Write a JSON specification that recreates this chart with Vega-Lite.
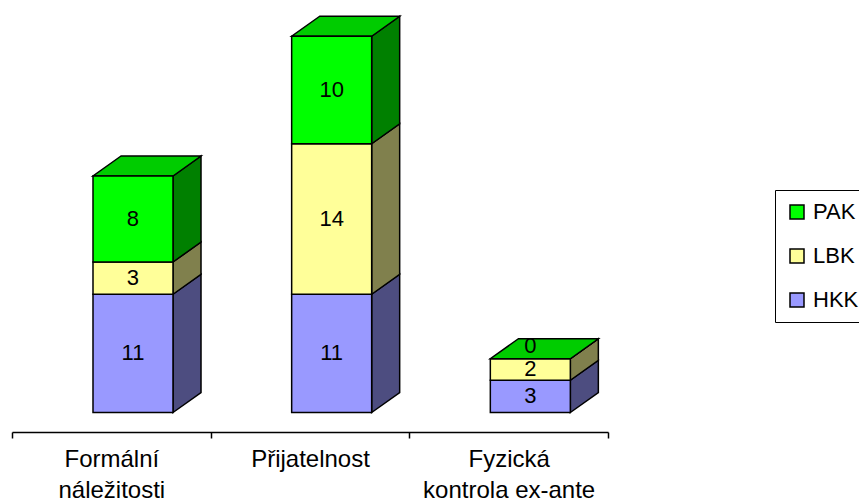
{
  "$schema": "https://vega.github.io/schema/vega-lite/v6.json",
  "width": 596,
  "height": 432,
  "autosize": {"type": "none"},
  "padding": {"left": 12, "top": 0, "right": 251, "bottom": 70},
  "background": "white",
  "config": {
    "view": {"stroke": null},
    "font": "Liberation Sans",
    "text": {"font": "Liberation Sans"},
    "axisX": {
      "grid": false,
      "domainColor": "black",
      "domainWidth": 1.5,
      "tickColor": "black",
      "tickWidth": 1.5,
      "tickSize": 6,
      "labelFont": "Liberation Sans",
      "labelFontSize": 24,
      "labelColor": "black",
      "labelLineHeight": 31,
      "labelPadding": 9,
      "labelOverlap": false,
      "labelBound": false,
      "labelFlush": false
    }
  },
  "data": {
    "values": [
      {"cat": "Formální náležitosti", "series": "HKK", "value": 11},
      {"cat": "Formální náležitosti", "series": "LBK", "value": 3},
      {"cat": "Formální náležitosti", "series": "PAK", "value": 8},
      {"cat": "Přijatelnost", "series": "HKK", "value": 11},
      {"cat": "Přijatelnost", "series": "LBK", "value": 14},
      {"cat": "Přijatelnost", "series": "PAK", "value": 10},
      {"cat": "Fyzická kontrola ex-ante", "series": "HKK", "value": 3},
      {"cat": "Fyzická kontrola ex-ante", "series": "LBK", "value": 2},
      {"cat": "Fyzická kontrola ex-ante", "series": "PAK", "value": 0}
    ]
  },
  "transform": [
    {"calculate": "indexof(['Formální náležitosti','Přijatelnost','Fyzická kontrola ex-ante'], datum.cat)", "as": "idx"},
    {"calculate": "indexof(['HKK','LBK','PAK'], datum.series)", "as": "ord"},
    {"stack": "value", "groupby": ["cat"], "sort": [{"field": "ord", "order": "ascending"}], "as": ["y0", "y1"]},
    {"calculate": "datum.idx - 0.0923", "as": "xl"},
    {"calculate": "datum.idx + 0.3104", "as": "xr"},
    {"calculate": "datum.cat + '|' + datum.series", "as": "seg"}
  ],
  "resolve": {"scale": {"fill": "independent"}, "legend": {"fill": "independent"}},
  "layer": [
    {
      "transform": [
        {"calculate": "0", "as": "k0"},
        {"calculate": "1", "as": "k1"},
        {"fold": ["k0", "k1"], "as": ["corner", "k"]},
        {"calculate": "datum.xr + datum.k * 0.141", "as": "vx"},
        {"calculate": "datum.y0 + datum.k * 1.86", "as": "vy0"},
        {"calculate": "datum.y1 + datum.k * 1.86", "as": "vy1"}
      ],
      "mark": {"type": "area", "orient": "vertical", "stroke": "black", "strokeWidth": 1.5, "strokeJoin": "miter", "fillOpacity": 1},
      "encoding": {
        "x": {
          "field": "vx", "type": "quantitative", "title": null,
          "scale": {"domain": [-0.5, 2.5], "nice": false, "zero": false},
          "axis": {
            "values": [-0.5, 0, 0.5, 1, 1.5, 2, 2.5],
            "tickOpacity": {"condition": {"test": "datum.value === 0 || datum.value === 1 || datum.value === 2", "value": 0}, "value": 1},
            "labelExpr": "datum.value === 0 ? ['Formální', 'náležitosti'] : datum.value === 1 ? 'Přijatelnost' : datum.value === 2 ? ['Fyzická', 'kontrola ex-ante'] : ''"
          }
        },
        "y": {"field": "vy0", "type": "quantitative", "title": null, "axis": null, "scale": {"domain": [-1.814, 38.372], "nice": false, "zero": false}},
        "y2": {"field": "vy1"},
        "detail": {"field": "seg"},
        "fill": {"field": "series", "type": "nominal", "legend": null, "scale": {"domain": ["PAK", "LBK", "HKK"], "range": ["#008000", "#80804D", "#4D4D80"]}}
      }
    },
    {
      "transform": [
        {"filter": "datum.series === 'PAK'"},
        {"calculate": "0", "as": "k0"},
        {"calculate": "1", "as": "k1"},
        {"fold": ["k0", "k1"], "as": ["corner", "k"]},
        {"calculate": "datum.xl + datum.k * 0.141", "as": "txl"},
        {"calculate": "datum.xr + datum.k * 0.141", "as": "txr"},
        {"calculate": "datum.y1 + datum.k * 1.86", "as": "ty"}
      ],
      "mark": {"type": "area", "orient": "horizontal", "fill": "#00CC00", "stroke": "black", "strokeWidth": 1.5, "strokeJoin": "miter", "fillOpacity": 1},
      "encoding": {
        "y": {"field": "ty", "type": "quantitative", "title": null, "axis": null},
        "x": {
          "field": "txl", "type": "quantitative", "title": null,
          "axis": {
            "values": [-0.5, 0, 0.5, 1, 1.5, 2, 2.5],
            "tickOpacity": {"condition": {"test": "datum.value === 0 || datum.value === 1 || datum.value === 2", "value": 0}, "value": 1},
            "labelExpr": "datum.value === 0 ? ['Formální', 'náležitosti'] : datum.value === 1 ? 'Přijatelnost' : datum.value === 2 ? ['Fyzická', 'kontrola ex-ante'] : ''"
          }
        },
        "x2": {"field": "txr"},
        "detail": {"field": "cat"}
      }
    },
    {
      "mark": {"type": "rect", "stroke": "black", "strokeWidth": 1.5, "strokeJoin": "miter", "fillOpacity": 1},
      "encoding": {
        "x": {
          "field": "xl", "type": "quantitative", "title": null,
          "axis": {
            "values": [-0.5, 0, 0.5, 1, 1.5, 2, 2.5],
            "tickOpacity": {"condition": {"test": "datum.value === 0 || datum.value === 1 || datum.value === 2", "value": 0}, "value": 1},
            "labelExpr": "datum.value === 0 ? ['Formální', 'náležitosti'] : datum.value === 1 ? 'Přijatelnost' : datum.value === 2 ? ['Fyzická', 'kontrola ex-ante'] : ''"
          }
        },
        "x2": {"field": "xr"},
        "y": {"field": "y0", "type": "quantitative", "title": null, "axis": null},
        "y2": {"field": "y1"},
        "fill": {
          "field": "series", "type": "nominal",
          "scale": {"domain": ["PAK", "LBK", "HKK"], "range": ["#00FF00", "#FFFF99", "#9999FF"]},
          "legend": {
            "orient": "none", "legendX": 763, "legendY": 190,
            "title": null,
            "symbolType": "square",
            "symbolSize": 196,
            "symbolStrokeColor": "black",
            "symbolStrokeWidth": 1.5,
            "labelFont": "Liberation Sans",
            "labelFontSize": 22,
            "labelColor": "black",
            "labelOffset": 5,
            "rowPadding": 22,
            "padding": 11,
            "strokeColor": "black",
            "fillColor": "white"
          }
        }
      }
    },
    {
      "transform": [
        {"filter": "datum.value !== 0"},
        {"calculate": "(datum.xl + datum.xr) / 2", "as": "xc"},
        {"calculate": "(datum.y0 + datum.y1) / 2", "as": "ym"}
      ],
      "mark": {"type": "text", "fontSize": 22, "font": "Liberation Sans", "color": "black", "baseline": "middle", "align": "center"},
      "encoding": {
        "x": {
          "field": "xc", "type": "quantitative", "title": null,
          "axis": {
            "values": [-0.5, 0, 0.5, 1, 1.5, 2, 2.5],
            "tickOpacity": {"condition": {"test": "datum.value === 0 || datum.value === 1 || datum.value === 2", "value": 0}, "value": 1},
            "labelExpr": "datum.value === 0 ? ['Formální', 'náležitosti'] : datum.value === 1 ? 'Přijatelnost' : datum.value === 2 ? ['Fyzická', 'kontrola ex-ante'] : ''"
          }
        },
        "y": {"field": "ym", "type": "quantitative", "title": null, "axis": null},
        "text": {"field": "value", "type": "quantitative"}
      }
    },
    {
      "transform": [
        {"filter": "datum.value === 0"},
        {"calculate": "(datum.xl + datum.xr) / 2", "as": "xc"},
        {"calculate": "(datum.y0 + datum.y1) / 2", "as": "ym"}
      ],
      "mark": {"type": "text", "fontSize": 22, "font": "Liberation Sans", "color": "black", "baseline": "middle", "align": "center", "dy": -13},
      "encoding": {
        "x": {
          "field": "xc", "type": "quantitative", "title": null,
          "axis": {
            "values": [-0.5, 0, 0.5, 1, 1.5, 2, 2.5],
            "tickOpacity": {"condition": {"test": "datum.value === 0 || datum.value === 1 || datum.value === 2", "value": 0}, "value": 1},
            "labelExpr": "datum.value === 0 ? ['Formální', 'náležitosti'] : datum.value === 1 ? 'Přijatelnost' : datum.value === 2 ? ['Fyzická', 'kontrola ex-ante'] : ''"
          }
        },
        "y": {"field": "ym", "type": "quantitative", "title": null, "axis": null},
        "text": {"field": "value", "type": "quantitative"}
      }
    }
  ]
}
